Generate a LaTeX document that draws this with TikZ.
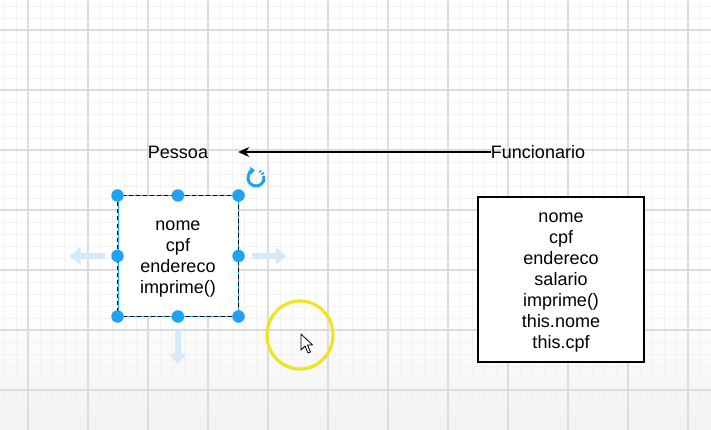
\documentclass[tikz,border=0pt]{standalone}
\usepackage{fontspec}
\setmainfont{Liberation Sans}
\usepackage{xcolor}
\usepackage{tikz}
\usetikzlibrary{arrows.meta}
\definecolor{Minor}{HTML}{F2F2F2}
\definecolor{Major}{HTML}{DCDCDC}
\definecolor{Handle}{HTML}{1EA2F1}
\definecolor{Ghost}{HTML}{D4EAF8}
\definecolor{Marker}{HTML}{EDE424}
\tikzset{
  lbl/.style={font=\fontsize{18}{21}\selectfont,inner sep=0pt,align=center},
  cls/.style={fill=white,inner sep=0pt},
  grip/.style={circle,fill=Handle,inner sep=0pt,minimum size=12.5pt},
  ghost/.style={-{Triangle[length=11pt,width=17pt]},draw=Ghost,line width=6.5pt},
  flow/.style={-{Stealth[length=11pt,width=10pt]},draw=black,line width=1.2pt},
  minor/.style={draw=Minor,line width=.7pt},
  major/.style={draw=Major,line width=1.2pt}
}
\begin{document}
\begin{tikzpicture}[x=1pt,y=-1pt]
  \useasboundingbox (0,0) rectangle (711,430);
  \fill[white] (0,0) rectangle (711,430);
  \shade[top color=white,bottom color=black!5] (0,300) rectangle (711,430);
  \foreach \i in {0,...,59} \draw[minor] (4+12*\i,0) -- (4+12*\i,430);
  \foreach \j in {0,...,35} \draw[minor] (0,6+12*\j) -- (711,6+12*\j);
  \foreach \i in {0,...,11} \draw[major] (28+60*\i,0) -- (28+60*\i,430);
  \foreach \j in {0,...,6} \draw[major] (0,30+60*\j) -- (711,30+60*\j);
  \node[lbl,minimum width=120pt] (pesLbl) at (178,152) {Pessoa};
  \node[lbl] (funLbl) at (538,152) {Funcionario};
  \draw[flow] (funLbl.west) -- (pesLbl.east);
  \node[cls,draw=Handle,line width=1pt,minimum width=120pt,minimum height=120pt] (pes) at (178,256) {};
  \draw[dash pattern=on 4pt off 3pt,line width=1pt] (pes.north west) rectangle (pes.south east);
  \node[lbl] (pesTxt) at ([yshift=-3.5pt]pes.center) {nome\\cpf\\endereco\\imprime()};
  \node[cls,draw=black,line width=1.2pt,minimum width=166pt,minimum height=165pt] (fun) at (561,279.5) {};
  \node[lbl] (funTxt) at ([yshift=-3.5pt]fun.center) {nome\\cpf\\endereco\\salario\\imprime()\\this.nome\\this.cpf};
  \foreach \a in {north west,north,north east,east,south east,south,south west,west}
    \node[grip] (grip-\a) at (pes.\a) {};
  \draw[ghost] ([xshift=-13pt]pes.west) -- ++(-35,0);
  \draw[ghost] ([xshift=13pt]pes.east) -- ++(35,0);
  \draw[ghost] ([yshift=-13pt]pes.south) -- ++(0,35);
  \draw[Handle,line width=3pt,-{Triangle[length=4.5pt,width=7.5pt]}] (264,178) arc[start angle=0,end angle=262,radius=8];
  \draw[Handle,line width=3pt,dash pattern=on 2pt off 1.6pt] (264,178) arc[start angle=0,end angle=-62,radius=8];
  \draw[Marker,line width=3.2pt] (300,335) ellipse[x radius=33,y radius=34];
  \draw[fill=white,line width=.8pt,line join=round] (301,334) -- (301,350) -- (305,346) -- (308,353) -- (310.5,352) -- (307.5,345) -- (312.5,345) -- cycle;
\end{tikzpicture}
\end{document}
